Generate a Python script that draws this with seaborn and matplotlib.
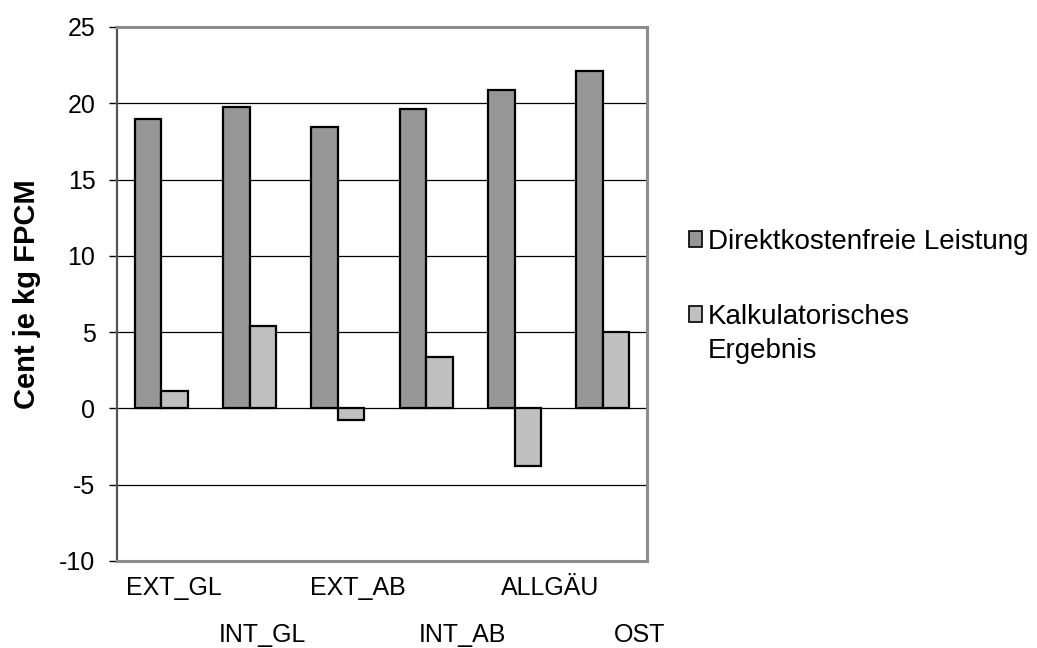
import matplotlib
matplotlib.use("Agg")
import matplotlib.pyplot as plt
import matplotlib.transforms as mtransforms
import seaborn as sns
import pandas as pd

# ---- data ----
categories = ["EXT_GL", "INT_GL", "EXT_AB", "INT_AB", "ALLGÄU", "OST"]
leistung = [19.0, 19.75, 18.45, 19.6, 20.9, 22.1]
ergebnis = [1.15, 5.4, -0.75, 3.4, -3.75, 5.0]
series = ["Direktkostenfreie Leistung", "Kalkulatorisches\nErgebnis"]
yticks = [-10, -5, 0, 5, 10, 15, 20, 25]
ylabel = "Cent je kg FPCM"

df = pd.DataFrame({
    "Kategorie": categories + categories,
    "Serie": [series[0]] * len(categories) + [series[1]] * len(categories),
    "Wert": leistung + ergebnis,
})

# ---- style ----
sns.set_style("white")
plt.rcParams["font.family"] = ["Liberation Sans", "DejaVu Sans"]
plt.rcParams["text.color"] = "black"
plt.rcParams["axes.labelcolor"] = "black"
plt.rcParams["xtick.color"] = "black"
plt.rcParams["ytick.color"] = "black"

W, H = 1037, 648
fig = plt.figure(figsize=(W / 100, H / 100), dpi=100)
ax = fig.add_axes([117 / W, 1 - 561 / H, 530 / W, 534 / H])

sns.barplot(data=df, x="Kategorie", y="Wert", hue="Serie",
            palette=["#969696", "#c0c0c0"], width=0.6, saturation=1,
            edgecolor="black", linewidth=1.6, ax=ax, zorder=3)

ax.set_ylim(-10, 25)
ax.set_xlim(-0.5, len(categories) - 0.5)
ax.set_yticks(yticks)
ax.set_yticklabels([str(t) for t in yticks])
ax.yaxis.grid(True, color="black", linewidth=0.9)
ax.xaxis.grid(False)
ax.set_axisbelow(True)

for side in ["top", "right", "bottom"]:
    ax.spines[side].set_color("#8c8c8c")
    ax.spines[side].set_linewidth(2.2)
ax.spines["left"].set_color("#555555")
ax.spines["left"].set_linewidth(1.6)

ax.tick_params(axis="y", which="both", left=True, direction="out", length=5.5,
               width=1.0, color="black", labelcolor="black", labelsize=18, pad=10)
ax.tick_params(axis="x", which="both", bottom=False, length=0,
               labelcolor="black", labelsize=18, pad=11)

ax.set_xlabel("")
ax.set_ylabel(ylabel, fontsize=21, fontweight="bold", color="black")
ax.yaxis.set_label_coords(-0.1434, 0.5)

# staggered category labels (Excel style)
dx_px = [13, 12.5, 20, 36, 35.5, 37]
for i, lab in enumerate(ax.get_xticklabels()):
    dy = 0 if i % 2 == 0 else -47
    off = mtransforms.ScaledTranslation(dx_px[i] / 100, dy / 100, fig.dpi_scale_trans)
    lab.set_transform(lab.get_transform() + off)

# legend
handles, labels = ax.get_legend_handles_labels()
if ax.legend_:
    ax.legend_.remove()
leg = fig.legend(handles, labels, loc="upper left",
                 bbox_to_anchor=(689 / W, 1 - 229 / H), frameon=False,
                 fontsize=20, handlelength=0.48, handleheight=0.48,
                 handletextpad=0.2, labelspacing=1.75, borderpad=0,
                 borderaxespad=0)
for t in leg.get_texts():
    t.set_linespacing(1.42)
    t.set_color("black")
patches = leg.get_patches()
for p in patches:
    p.set_edgecolor("black")
    p.set_linewidth(1.2)
# align the square of the two-line entry with its first line
patches[1].set_y(patches[1].get_y() + 14.5)

fig.savefig("out.png", dpi=100)
